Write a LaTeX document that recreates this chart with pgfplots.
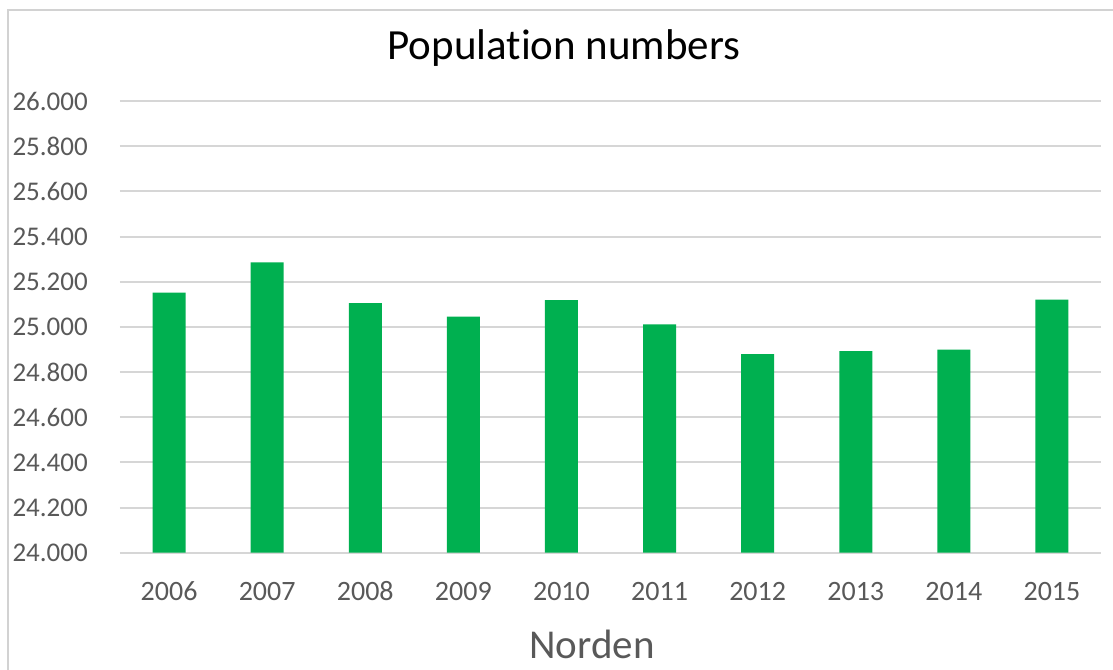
\documentclass[border=0pt]{standalone}
\usepackage{fontspec}
\setmainfont{Carlito}[Ligatures=NoCommon]
\usepackage{pgfplots}
\pgfplotsset{compat=1.18}
\definecolor{barGreen}{RGB}{0,176,80}
\definecolor{gridGrey}{RGB}{214,214,214}
\definecolor{frameGrey}{RGB}{210,210,210}
\definecolor{labelGrey}{RGB}{89,89,89}
\begin{document}
\begin{tikzpicture}[x=1pt,y=1pt]
\useasboundingbox (0,0) rectangle (1113,669);
\fill[white] (0,0) rectangle (1113,669);
% chart frame
\draw[frameGrey, line width=1.5pt] (8,-20) -- (8,659) -- (1140,659);
\begin{axis}[
  at={(120pt,116.3pt)}, anchor=south west,
  scale only axis, width=981pt, height=451.7pt,
  ymin=24000, ymax=26000,
  scaled y ticks=false,
  ytick={24000,24200,24400,24600,24800,25000,25200,25400,25600,25800,26000},
  yticklabels={24.000,24.200,24.400,24.600,24.800,25.000,25.200,25.400,25.600,25.800,26.000},
  xmin=-0.5, xmax=9.5,
  xtick={0,1,2,3,4,5,6,7,8,9},
  xticklabels={2006,2007,2008,2009,2010,2011,2012,2013,2014,2015},
  axis line style={draw=none},
  major tick length=0pt,
  ymajorgrids, grid style={gridGrey, line width=2pt},
  yticklabel style={anchor=east, inner sep=0pt, xshift=-32pt,
    font=\fontsize{27}{32}\selectfont, text=labelGrey},
  xticklabel style={anchor=base, inner sep=0pt, yshift=-48pt,
    font=\fontsize{28}{33}\selectfont, text=labelGrey},
  ybar, bar width=33pt,
]
\addplot[fill=barGreen, draw=none] coordinates {
  (0,25152) (1,25286) (2,25105) (3,25045) (4,25118)
  (5,25011) (6,24879) (7,24893) (8,24899) (9,25120)
};
\end{axis}
\node[anchor=base, inner sep=0pt, font=\fontsize{43}{50}\selectfont, text=black] at (564,609.7) {Population numbers};
\node[anchor=base, inner sep=0pt, font=\fontsize{41}{48}\selectfont, text=labelGrey] at (592,11) {Norden};
\end{tikzpicture}
\end{document}
